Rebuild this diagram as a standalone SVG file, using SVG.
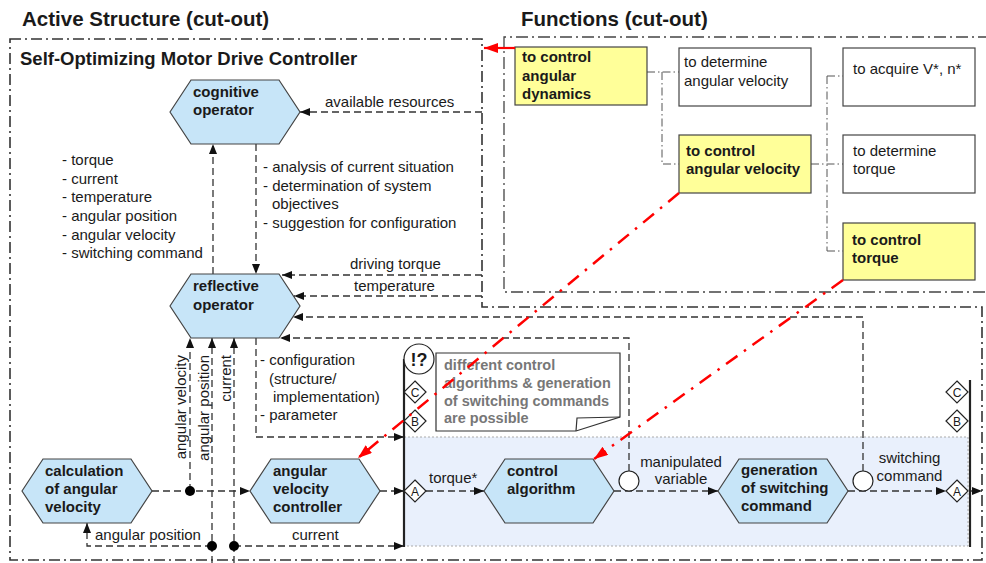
<svg xmlns="http://www.w3.org/2000/svg" width="986" height="563" viewBox="0 0 986 563">
<defs>
<style>
text{font-family:"Liberation Sans",Arial,sans-serif;fill:#1a1a1a}
.t{font-size:15px}
.b{font-size:15px;font-weight:bold}
.h{font-size:20.5px;font-weight:bold}
.sub{font-size:18.5px;font-weight:bold}
.note{font-size:14.5px;font-weight:bold;fill:#777}
.dl{font-size:12px;text-anchor:middle}
.mid{text-anchor:middle}
.hex{fill:#c7e5f8;stroke:#444;stroke-width:1.2}
.yel{fill:#ffff99;stroke:#444;stroke-width:1.2}
.wht{fill:#fff;stroke:#444;stroke-width:1.2}
.dash{fill:none;stroke:#333;stroke-width:1.3;stroke-dasharray:7,4}
.arr{marker-end:url(#ah)}
.border{fill:none;stroke:#333;stroke-width:1.6;stroke-dasharray:11,4,2,4}
.fborder{fill:none;stroke:#444;stroke-width:1.3;stroke-dasharray:12,4,2,4}
.tree{fill:none;stroke:#555;stroke-width:1;stroke-dasharray:8,3,1.5,3}
.red{fill:none;stroke:#f00;stroke-width:2.5;stroke-dasharray:14,8,2.5,8;marker-end:url(#rh)}
.dot{fill:#000}
.dia{fill:#fff;stroke:#222;stroke-width:1.2}
.circ{fill:#fff;stroke:#222;stroke-width:1.2}
.bar{stroke:#222;stroke-width:2.2}
.band{fill:#e9f0fc;stroke:#aaa;stroke-width:1;stroke-dasharray:2,2}
</style>
<marker id="ah" viewBox="0 0 10 8" refX="10" refY="4" markerWidth="10" markerHeight="8" markerUnits="userSpaceOnUse" orient="auto"><path d="M0,0L10,4L0,8z" fill="#111"/></marker>
<marker id="rh" viewBox="0 0 14 10" refX="14" refY="5" markerWidth="14" markerHeight="10" markerUnits="userSpaceOnUse" orient="auto"><path d="M0,0L14,5L0,10z" fill="#f00"/></marker>
</defs>

<rect width="986" height="563" fill="#fff"/>

<!-- titles -->
<text class="h" x="22" y="26">Active Structure (cut-out)</text>
<text class="h" x="521" y="26">Functions (cut-out)</text>

<!-- boundaries -->
<g id="boundaries">
<path class="border" d="M10,39 H482 V307 H982 V560 H10 Z"/>
<path class="fborder" d="M990,37 H504 V292 H990"/>
<rect class="band" x="404" y="437" width="564" height="109"/>
</g>

<text class="sub" x="20" y="65">Self-Optimizing Motor Drive Controller</text>

<!-- connectors -->
<g id="connectors">
<path class="dash arr" d="M482,112 H300"/>
<path class="dash arr" d="M213,274 V144"/>
<path class="dash arr" d="M256,144 V274"/>
<path class="dash arr" d="M482,275 H282"/>
<path class="dash arr" d="M482,296 H294"/>
<path class="dash arr" d="M863,471 V317 H293"/>
<path class="dash arr" d="M629,471 V338 H280"/>
<path class="dash arr" d="M152,491 H250"/>
<path class="dash arr" d="M190,491 V338"/>
<path class="dash arr" d="M212,563 V338"/>
<path class="dash arr" d="M234,563 V338"/>
<path class="dash arr" d="M212,546 H87 V523"/>
<path class="dash arr" d="M234,546 H404"/>
<path class="dash arr" d="M256,338 V437 H404"/>
<path class="dash arr" d="M380,491 H404"/>
<path class="dash arr" d="M426,491 H484"/>
<path class="dash arr" d="M614,491 H718"/>
<path class="dash arr" d="M848,491 H946"/>
<path class="dash arr" d="M970,491 H982"/>
<path class="tree" d="M647,72 H679 M662,72 V164 H679"/>
<path class="tree" d="M811,164 H843 M827,76 V251 M827,76 H843 M827,251 H843"/>
</g>

<!-- connector labels -->
<g id="labels">
<text class="t" x="325" y="107">available resources</text>
<text class="t" x="62" y="165">- torque</text>
<text class="t" x="62" y="183.5">- current</text>
<text class="t" x="62" y="202">- temperature</text>
<text class="t" x="62" y="221">- angular position</text>
<text class="t" x="62" y="239.5">- angular velocity</text>
<text class="t" x="62" y="258">- switching command</text>
<text class="t" x="263" y="172">- analysis of current situation</text>
<text class="t" x="263" y="190.5">- determination of system</text>
<text class="t" x="272" y="209">objectives</text>
<text class="t" x="263" y="227.5">- suggestion for configuration</text>
<text class="t" x="350" y="269">driving torque</text>
<text class="t" x="354" y="290.5">temperature</text>
<text class="t" x="260" y="365">- configuration</text>
<text class="t" x="269" y="383.5">(structure/</text>
<text class="t" x="273" y="402">implementation)</text>
<text class="t" x="260" y="420">- parameter</text>
<text class="t" text-anchor="end" transform="translate(186,355) rotate(-90)">angular velocity</text>
<text class="t" text-anchor="end" transform="translate(208.5,355) rotate(-90)">angular position</text>
<text class="t" text-anchor="end" transform="translate(230.5,355) rotate(-90)">current</text>
<text class="t" x="95" y="540">angular position</text>
<text class="t" x="292" y="540">current</text>
<text class="t" x="429" y="483">torque*</text>
<text class="t mid" x="681" y="467">manipulated</text>
<text class="t mid" x="681" y="484">variable</text>
<text class="t mid" x="909.5" y="463">switching</text>
<text class="t mid" x="909.5" y="481">command</text>
</g>

<!-- functions -->
<g id="f-angular-dynamics">
<rect class="yel" x="515" y="47" width="132" height="58"/>
<text class="b" x="522" y="62">to control</text>
<text class="b" x="522" y="80.5">angular</text>
<text class="b" x="522" y="99">dynamics</text>
</g>
<g id="f-determine-velocity">
<rect class="wht" x="679" y="48" width="132" height="58"/>
<text class="t" x="684" y="67">to determine</text>
<text class="t" x="684" y="86">angular velocity</text>
</g>
<g id="f-acquire">
<rect class="wht" x="843" y="48" width="132" height="58"/>
<text class="t" x="853" y="74">to acquire V*, n*</text>
</g>
<g id="f-control-velocity">
<rect class="yel" x="679" y="135" width="132" height="58"/>
<text class="b" x="686" y="156">to control</text>
<text class="b" x="686" y="174">angular velocity</text>
</g>
<g id="f-determine-torque">
<rect class="wht" x="843" y="135" width="132" height="58"/>
<text class="t" x="853" y="156">to determine</text>
<text class="t" x="853" y="174">torque</text>
</g>
<g id="f-control-torque">
<rect class="yel" x="843" y="223" width="132" height="57"/>
<text class="b" x="852" y="245">to control</text>
<text class="b" x="852" y="263">torque</text>
</g>

<!-- active structure nodes -->
<g id="cognitive-operator">
<polygon class="hex" points="170,112 191,80 279,80 300,112 279,144 191,144"/>
<text class="b" x="193" y="97">cognitive</text>
<text class="b" x="193" y="115">operator</text>
</g>
<g id="reflective-operator">
<polygon class="hex" points="170,306 191,274 279,274 300,306 279,338 191,338"/>
<text class="b" x="193" y="291">reflective</text>
<text class="b" x="193" y="310">operator</text>
</g>
<g id="calculation">
<polygon class="hex" points="22,491 43,459 131,459 152,491 131,523 43,523"/>
<text class="b" x="45" y="475.5">calculation</text>
<text class="b" x="45" y="494">of angular</text>
<text class="b" x="45" y="512">velocity</text>
</g>
<g id="velocity-controller">
<polygon class="hex" points="250,491 271,459 359,459 380,491 359,523 271,523"/>
<text class="b" x="273" y="475.5">angular</text>
<text class="b" x="273" y="494">velocity</text>
<text class="b" x="273" y="512">controller</text>
</g>
<g id="control-algorithm">
<polygon class="hex" points="484,491 505,459 593,459 614,491 593,523 505,523"/>
<text class="b" x="507" y="476">control</text>
<text class="b" x="507" y="494">algorithm</text>
</g>
<g id="generation">
<polygon class="hex" points="718,491 739,459 827,459 848,491 827,523 739,523"/>
<text class="b" x="741" y="474.5">generation</text>
<text class="b" x="741" y="492.5">of switching</text>
<text class="b" x="741" y="510.5">command</text>
</g>

<!-- variant bars -->
<g id="variant-left">
<line class="bar" x1="404" y1="359" x2="404" y2="547"/>
<circle class="circ" cx="419" cy="359" r="15"/>
<text x="419" y="365.5" class="mid" font-size="18" font-weight="bold">!?</text>
<polygon class="dia" points="415,381 426,392 415,403 404,392"/>
<text class="dl" x="415" y="396.5">C</text>
<polygon class="dia" points="415,410 426,421 415,432 404,421"/>
<text class="dl" x="415" y="425.5">B</text>
<polygon class="dia" points="415,480 426,491 415,502 404,491"/>
<text class="dl" x="415" y="495.5">A</text>
</g>
<g id="note">
<polygon fill="#fff" stroke="#333" stroke-width="1.2" points="436,353 620,353 620,417 576,431 436,431"/>
<path fill="none" stroke="#333" stroke-width="1.2" d="M576,431 L577,418 L620,417"/>
<text class="note" x="444" y="370">different control</text>
<text class="note" x="444" y="388">algorithms &amp; generation</text>
<text class="note" x="444" y="405.5">of switching commands</text>
<text class="note" x="444" y="423">are possible</text>
</g>
<g id="variant-right">
<line class="bar" x1="970" y1="380" x2="970" y2="547"/>
<polygon class="dia" points="957,381 968,392 957,403 946,392"/>
<text class="dl" x="957" y="396.5">C</text>
<polygon class="dia" points="957,410 968,421 957,432 946,421"/>
<text class="dl" x="957" y="425.5">B</text>
<polygon class="dia" points="957,480 968,491 957,502 946,491"/>
<text class="dl" x="957" y="495.5">A</text>
</g>

<!-- junctions -->
<g id="junctions">
<circle class="circ" cx="629" cy="481" r="10"/>
<circle class="circ" cx="863" cy="481" r="10"/>
<circle class="dot" cx="190" cy="491" r="5"/>
<circle class="dot" cx="212" cy="546" r="5"/>
<circle class="dot" cx="234" cy="546" r="5"/>
</g>

<!-- function-to-structure mapping connectors (drawn on top) -->
<g id="mapping-connectors">
<path fill="none" stroke="#f00" stroke-width="2.2" marker-end="url(#rh)" d="M515,48 H484"/>
<path class="red" d="M679,193 L358,458"/>
<path class="red" d="M843,280 L594,459"/>
</g>
</svg>
